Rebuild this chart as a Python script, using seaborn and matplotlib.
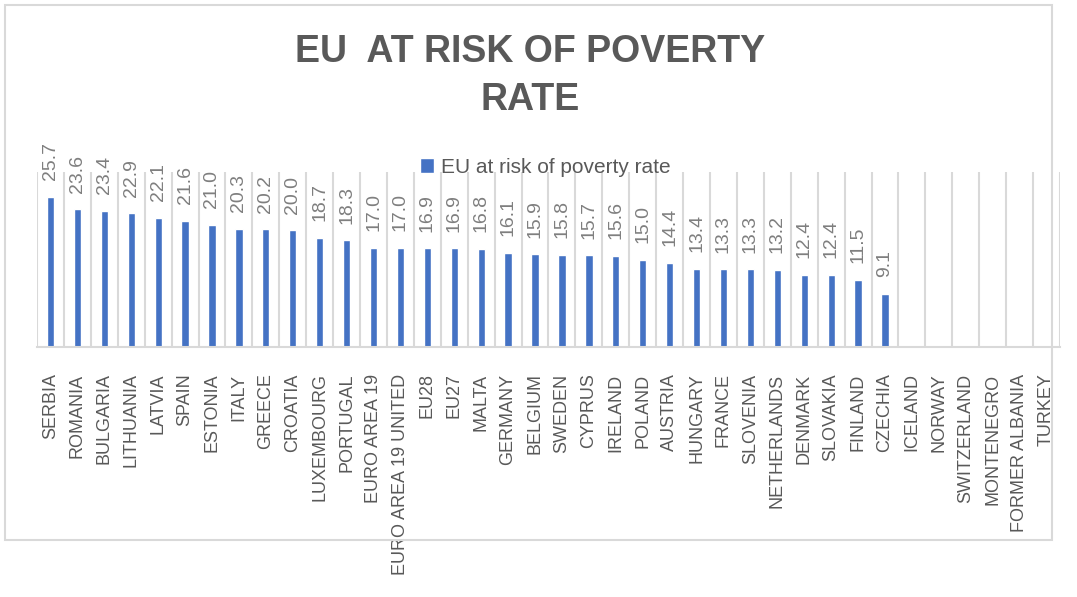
import numpy as np
import pandas as pd
import seaborn as sns
import matplotlib.pyplot as plt
from matplotlib.ticker import FixedLocator
from matplotlib.patches import Rectangle

# data
countries = ["SERBIA", "ROMANIA", "BULGARIA", "LITHUANIA", "LATVIA", "SPAIN", "ESTONIA",
             "ITALY", "GREECE", "CROATIA", "LUXEMBOURG", "PORTUGAL", "EURO AREA 19",
             "EURO AREA 19 UNITED", "EU28", "EU27", "MALTA", "GERMANY", "BELGIUM", "SWEDEN",
             "CYPRUS", "IRELAND", "POLAND", "AUSTRIA", "HUNGARY", "FRANCE", "SLOVENIA",
             "NETHERLANDS", "DENMARK", "SLOVAKIA", "FINLAND", "CZECHIA", "ICELAND", "NORWAY",
             "SWITZERLAND", "MONTENEGRO", "FORMER ALBANIA", "TURKEY"]
rates = [25.7, 23.6, 23.4, 22.9, 22.1, 21.6, 21.0, 20.3, 20.2, 20.0, 18.7, 18.3, 17.0, 17.0,
         16.9, 16.9, 16.8, 16.1, 15.9, 15.8, 15.7, 15.6, 15.0, 14.4, 13.4, 13.3, 13.3, 13.2,
         12.4, 12.4, 11.5, 9.1]

df = pd.DataFrame({"country": countries[:len(rates)], "rate": rates})

sns.set_style("white")
plt.rcParams["font.family"] = ["Liberation Sans", "DejaVu Sans"]

txt = "#595959"
fig = plt.figure(figsize=(10.77, 5.97), dpi=100)
ax = fig.add_axes([37 / 1077, 1 - 347 / 597, (1060 - 37) / 1077, (347 - 172) / 597])

sns.barplot(data=df, x="country", y="rate", order=countries, color="#4472C4",
            width=0.27, saturation=1, label="EU at risk of poverty rate", ax=ax)

ax.set_ylim(0, 30)
ax.set_xlim(-0.5, len(countries) - 0.5)
ax.set_yticks([])
ax.set_xlabel("")
ax.set_ylabel("")
for s in ["top", "right", "left"]:
    ax.spines[s].set_visible(False)
ax.spines["bottom"].set_color("#d9d9d9")
ax.spines["bottom"].set_linewidth(1.5)

# category separators
ax.xaxis.set_minor_locator(FixedLocator(np.arange(len(countries) + 1) - 0.5))
ax.grid(which="minor", axis="x", color="#d9d9d9", linewidth=1.5)
ax.tick_params(axis="x", which="both", length=0)
ax.tick_params(axis="x", which="major", pad=19, labelsize=13, labelcolor=txt, rotation=90)

for c in ax.containers:
    ax.bar_label(c, fmt="%.1f", rotation=90, padding=12, fontsize=14, color="#7f7f7f")

ax.legend(loc="center", bbox_to_anchor=(545 / 1077, 1 - 167 / 597),
          bbox_transform=fig.transFigure, frameon=False, fontsize=15,
          labelcolor=txt, handlelength=0.7, handleheight=0.7, handletextpad=0.3)

fig.text(530 / 1077, 1 - 76 / 597, "EU  AT RISK OF POVERTY\nRATE", ha="center", va="center",
         fontsize=27, fontweight="bold", color=txt, linespacing=1.45)

fig.patches.append(Rectangle((5 / 1077, 1 - 540 / 597), (1052 - 5) / 1077, (540 - 5) / 597,
                             transform=fig.transFigure, fill=False, edgecolor="#d9d9d9",
                             linewidth=1.5))

fig.savefig("out.png", dpi=100)
